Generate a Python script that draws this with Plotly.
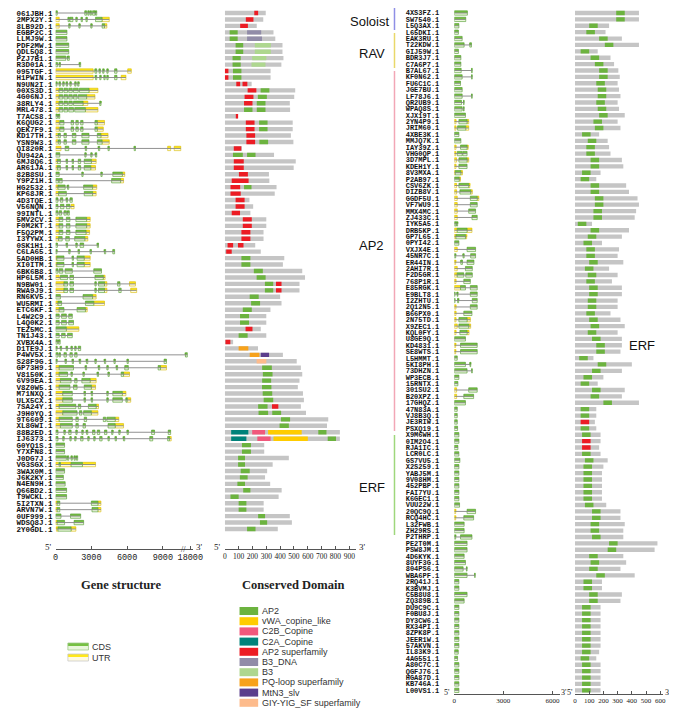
import plotly.graph_objects as go

W, H = 677, 708

# ---------------- data ----------------
left_genes = ["061JBH.1", "2MPX2Y.1", "8LB92D.1", "EGBP2C.1", "LLMJ9W.1", "PDF2MW.1", "QDL5Q8.1", "PZJ7B1.1",
              "R3D01A.1", "095TGF.1", "H1PWIN.1", "N9UN2I.1", "00XS3D.1", "4G06NJ.1", "38RLY4.1", "MRL478.1",
              "T7ACS8.1", "K6QUG2.1", "QEK7F9.1", "KD17TH.1", "YSN9W3.1", "QI820R.1", "UU942A.1", "6MJ8Q6.1",
              "AR61JA.1", "82B8SU.1", "Y9PZ1H.1", "HG2532.1", "KP68JR.1", "4D3TQE.1", "V56NQN.1", "99INTL.1",
              "5MV2CV.1", "F0M2KT.1", "F5Q2PM.1", "I3YYWX.1", "0SK1H1.1", "C6LA65.1", "5AD0HB.1", "XI0ITM.1",
              "6BK6B8.1", "HP6L5M.1", "N9BW01.1", "RWA9J9.1", "RN6KV5.1", "WU5RMI.1", "ETC6KF.1", "L4W2C9.1",
              "L4Q0K2.1", "TEZ5MC.1", "TN1J43.1", "XVBX4A.1", "D1TE9J.1", "P4WV5X.1", "S28F9G.1", "GP73H9.1",
              "V8150K.1", "6V99EA.1", "V8Z0W5.1", "M71NXQ.1", "ULX5CX.1", "7SA24Y.1", "J9H0YQ.1", "9T6609.1",
              "XL8GWI.1", "88B2ED.1", "IJ6373.1", "G0YQ1S.1", "Y7XFN8.1", "J0DG7J.1", "VG3SGX.1", "3WAX0M.1",
              "J6K2KY.1", "N4EN9H.1", "Q66BD2.1", "T9WCKL.1", "5I2TXN.1", "ARVN7W.1", "0UF999.1", "WDSQ8J.1",
              "2Y0GDL.1"]

# gene structure: (kind, start bp, end bp) ; C = CDS, U = UTR
left_struct = [
    [("C", 0, 130), ("C", 2450, 2600), ("C", 2700, 2800), ("C", 2900, 3000), ("C", 3100, 3300), ("C", 3350, 3450)],
    [("U", 0, 300), ("C", 1050, 1150), ("C", 1200, 1450), ("C", 1700, 1800), ("C", 2150, 2250), ("C", 2550, 2650), ("C", 3350, 3900), ("U", 3900, 4500)],
    [("U", 0, 300), ("C", 1100, 1200), ("C", 1950, 2050), ("C", 2950, 3050), ("C", 3900, 4100), ("U", 4100, 4300)],
    [("C", 0, 950)],
    [("C", 0, 950)],
    [("C", 0, 1100)],
    [("C", 0, 1100)],
    [("C", 0, 850), ("C", 1000, 1150)],
    [("C", 0, 150), ("C", 300, 400), ("C", 2000, 2100)],
    [("U", 0, 3150), ("C", 3300, 3450), ("C", 3650, 3750), ("C", 3950, 4050), ("C", 4300, 4400), ("C", 4950, 5150), ("U", 6050, 6350)],
    [("U", 0, 3150), ("C", 3350, 3450), ("C", 3700, 3800), ("C", 4050, 4150), ("C", 4300, 4400), ("C", 4950, 5150), ("U", 5500, 5900)],
    [("C", 0, 100), ("C", 300, 400), ("C", 600, 700), ("C", 900, 1000), ("C", 1200, 1300), ("C", 1600, 1700), ("C", 1850, 1950)],
    [("U", 0, 250), ("C", 300, 600), ("C", 700, 1000), ("C", 1100, 1400), ("C", 1500, 1900), ("C", 2000, 2800), ("U", 2800, 3550)],
    [("U", 0, 250), ("C", 300, 600), ("C", 700, 1000), ("C", 1100, 1400), ("C", 1500, 1800), ("C", 1900, 2600), ("U", 2600, 3300)],
    [("U", 0, 250), ("C", 300, 600), ("C", 700, 1000), ("C", 1100, 1400), ("C", 1500, 2300), ("U", 2300, 2700), ("C", 3700, 3800)],
    [("U", 0, 250), ("C", 300, 600), ("C", 700, 1000), ("C", 1100, 1500), ("C", 1600, 2500), ("U", 2500, 3550)],
    [("C", 0, 150), ("C", 250, 350)],
    [("U", 0, 300), ("C", 350, 700), ("C", 1300, 1500), ("C", 1700, 1900), ("C", 2100, 2300), ("C", 3300, 3500), ("U", 3500, 4100)],
    [("U", 0, 300), ("C", 350, 700), ("C", 1300, 1500), ("C", 1700, 1900), ("C", 2100, 2300), ("C", 3300, 3500), ("U", 3500, 4000)],
    [("U", 0, 200), ("C", 250, 400), ("C", 700, 900), ("C", 1400, 1700), ("C", 2200, 2800), ("C", 3500, 3800), ("U", 3800, 4400)],
    [("U", 0, 200), ("C", 250, 400), ("C", 700, 900), ("C", 1400, 1700), ("C", 2200, 2800), ("C", 3500, 3900), ("U", 3900, 4500)],
    [("U", 0, 450), ("C", 800, 1100), ("C", 2500, 2600), ("C", 3600, 3700), ("C", 4400, 4500), ("C", 6600, 6700), ("U", 9400, 9650), ("U", 9950, 10500)],
    [("C", 0, 350), ("C", 2450, 2550), ("C", 2950, 3050), ("C", 3350, 3450)],
    [("U", 0, 150), ("C", 150, 400), ("C", 900, 1000), ("C", 1400, 1500), ("C", 1900, 2100), ("C", 2400, 3000), ("U", 3000, 3400)],
    [("U", 0, 150), ("C", 150, 400), ("C", 900, 1000), ("C", 1400, 1500), ("C", 1900, 2100), ("C", 2400, 2950), ("U", 2950, 3350)],
    [("C", 0, 300), ("C", 2200, 2300), ("C", 3800, 3900), ("C", 4800, 5600), ("U", 5600, 5800)],
    [("C", 0, 250), ("C", 300, 550), ("C", 4700, 5450), ("U", 5450, 5700)],
    [("U", 0, 200), ("C", 200, 800), ("C", 1000, 1100), ("C", 2350, 3100), ("U", 3100, 3450)],
    [("U", 0, 250), ("C", 250, 900), ("C", 2400, 3100), ("U", 3100, 3400)],
    [("C", 0, 200), ("C", 400, 600), ("C", 900, 1000), ("C", 1200, 1400)],
    [("C", 0, 200), ("C", 400, 700), ("C", 900, 1200), ("U", 1300, 1550)],
    [("C", 0, 200), ("C", 300, 500), ("C", 700, 900), ("C", 1000, 1150)],
    [("U", 0, 300), ("C", 300, 600), ("C", 900, 1200), ("C", 1700, 2600), ("U", 2600, 2900)],
    [("U", 0, 300), ("C", 300, 600), ("C", 900, 1200), ("C", 1700, 2600), ("U", 2600, 2900)],
    [("U", 0, 300), ("C", 300, 600), ("C", 900, 1200), ("C", 1700, 2550), ("U", 2550, 2850)],
    [("U", 0, 250), ("C", 250, 550), ("C", 850, 1150), ("C", 1600, 2450), ("U", 2450, 2700)],
    [("C", 0, 150), ("C", 900, 1000), ("C", 1700, 1800), ("C", 2050, 2350), ("C", 3500, 3600)],
    [("C", 0, 100), ("C", 1100, 1200), ("C", 1900, 2000), ("C", 2900, 3000), ("C", 4100, 4200), ("C", 4800, 4950)],
    [("U", 0, 100), ("C", 100, 700), ("C", 1400, 1500), ("C", 1800, 2400), ("U", 2400, 2900)],
    [("U", 0, 100), ("C", 100, 700), ("C", 1400, 1500), ("C", 1800, 2400), ("U", 2400, 2900)],
    [("C", 0, 200), ("C", 300, 600), ("C", 800, 1400), ("C", 3200, 3850)],
    [("U", 0, 300), ("C", 400, 1000), ("C", 1200, 1500), ("C", 3300, 4000), ("U", 4000, 4150)],
    [("U", 0, 700), ("C", 700, 1000), ("C", 1200, 1500), ("C", 3300, 3400), ("C", 3600, 4100), ("U", 4100, 4300), ("C", 5200, 5400), ("U", 6200, 6700)],
    [("U", 0, 700), ("C", 700, 1000), ("C", 1200, 1500), ("C", 3300, 3400), ("C", 3600, 4100), ("U", 4100, 4300), ("C", 5300, 5500), ("U", 6300, 6800)],
    [("C", 0, 400), ("C", 2300, 3100), ("U", 3100, 3400)],
    [("U", 0, 200), ("C", 200, 500), ("C", 2500, 3200), ("U", 3200, 4100)],
    [("U", 0, 300), ("C", 300, 700), ("C", 1800, 2500), ("U", 2500, 2650)],
    [("C", 0, 300), ("C", 500, 900), ("C", 1100, 1400)],
    [("C", 0, 300), ("C", 500, 900), ("C", 1100, 1500)],
    [("C", 0, 900), ("U", 900, 1950)],
    [("C", 0, 300), ("C", 500, 800), ("C", 1000, 1400)],
    [("C", 0, 150), ("C", 250, 380)],
    [("C", 0, 100), ("C", 400, 500), ("C", 900, 1000), ("C", 1300, 1400), ("C", 1600, 1700), ("C", 1900, 2100)],
    [("C", 0, 200), ("C", 300, 400), ("C", 700, 900), ("C", 1200, 1400), ("C", 1600, 1800), ("C", 10900, 11050)],
    [("C", 0, 100), ("C", 800, 900), ("C", 1400, 1500), ("C", 2000, 2100), ("C", 2600, 2700), ("C", 3300, 3400), ("C", 4100, 4200), ("C", 4900, 5000), ("C", 6000, 6100), ("C", 9100, 9300)],
    [("U", 0, 300), ("C", 300, 1500), ("C", 2500, 2600), ("C", 3600, 3700), ("C", 4300, 4400), ("C", 5100, 5200), ("C", 5800, 6100), ("C", 8600, 8800), ("U", 8800, 9300)],
    [("U", 0, 300), ("C", 300, 1000), ("C", 1300, 1400), ("C", 2300, 2400), ("C", 3500, 3600), ("C", 4400, 4500), ("C", 5500, 5700), ("U", 5700, 6200)],
    [("U", 0, 400), ("C", 400, 1300), ("C", 1600, 1800), ("C", 2200, 2900), ("U", 2900, 3400)],
    [("U", 0, 300), ("C", 300, 1200), ("C", 1500, 1800), ("C", 2400, 3000), ("U", 3000, 3350)],
    [("U", 0, 600), ("C", 600, 1400), ("C", 2400, 2500), ("C", 3000, 3100), ("C", 4300, 4400), ("C", 4800, 5600), ("U", 5600, 5900)],
    [("U", 0, 600), ("C", 600, 1400), ("C", 2400, 2500), ("C", 3000, 3100), ("C", 4300, 4400), ("C", 4800, 5600), ("C", 5900, 6000), ("U", 6000, 6300)],
    [("U", 0, 300), ("C", 300, 1700), ("C", 1900, 2100), ("C", 2750, 3400), ("U", 3400, 3600)],
    [("U", 0, 600), ("C", 600, 1800), ("C", 2000, 2200), ("C", 2350, 3000), ("U", 3000, 3550)],
    [("U", 0, 300), ("C", 300, 1400), ("C", 1700, 1900), ("C", 2400, 2600), ("C", 4000, 4200), ("C", 4300, 5000), ("U", 5000, 5300)],
    [("U", 0, 400), ("C", 400, 1400), ("C", 1700, 1900), ("C", 2300, 2500), ("C", 4400, 5000), ("U", 5000, 5700)],
    [("C", 0, 200), ("C", 700, 800), ("C", 1100, 1300), ("C", 1700, 1800), ("C", 2200, 2300), ("C", 2600, 2700), ("C", 3100, 3300), ("C", 3500, 3700), ("C", 4100, 4300), ("C", 4700, 4800), ("C", 5300, 5400), ("C", 6000, 6100), ("C", 8050, 8300), ("C", 9450, 9650)],
    [("C", 0, 200), ("C", 600, 700), ("C", 1200, 1300), ("C", 1600, 1700), ("C", 2100, 2300), ("C", 2700, 2800), ("C", 3200, 3300), ("C", 3700, 3900), ("C", 4400, 4500), ("C", 5000, 5100), ("C", 5700, 5800), ("C", 7900, 8150), ("C", 9400, 9550), ("U", 9550, 9700)],
    [("C", 0, 750)],
    [("C", 0, 750)],
    [("C", 0, 900), ("C", 1000, 1100), ("C", 1300, 1400), ("C", 1550, 1650), ("C", 1750, 1850)],
    [("U", 0, 300), ("C", 300, 400), ("U", 400, 1300), ("C", 1300, 2250), ("U", 2250, 3350)],
    [("C", 0, 750)],
    [("C", 0, 650)],
    [("C", 0, 800)],
    [("C", 0, 920)],
    [("C", 0, 920)],
    [("U", 0, 130), ("C", 130, 350), ("C", 3000, 3550), ("U", 3550, 3800)],
    [("U", 0, 130), ("C", 130, 350), ("C", 3050, 3550), ("U", 3550, 3800)],
    [("C", 0, 450), ("C", 1250, 2100)],
    [("U", 0, 130), ("C", 130, 750), ("C", 1550, 2350)],
    [("U", 60, 200), ("C", 200, 1300), ("U", 1300, 1700)],
]

# protein length (aa) and conserved domains (type, start, end)
left_len = [296, 278, 231, 352, 365, 417, 417, 424, 409, 331, 331, 194, 509, 502, 470, 472, 96, 491, 491, 478,
            496, 124, 356, 513, 498, 319, 322, 374, 361, 178, 205, 185, 300, 300, 280, 280, 220, 260, 430, 420,
            560, 580, 540, 540, 400, 410, 330, 300, 300, 260, 300, 60, 240, 420, 520, 550, 560, 540, 528, 565,
            572, 550, 587, 748, 739, 832, 832, 285, 285, 463, 346, 306, 291, 328, 411, 389, 281, 281, 470, 485,
            383]

left_dom = [
    [("AP2sf", 213, 241)], [("AP2sf", 152, 207)], [("AP2sf", 111, 167)],
    [("AP2", 35, 93), ("B3_DNA", 161, 263)], [("AP2", 35, 93), ("B3_DNA", 161, 269)],
    [("AP2", 78, 133), ("B3", 217, 333)], [("AP2", 78, 133), ("B3", 217, 333)],
    [("AP2", 56, 115), ("B3", 198, 300)], [("AP2", 56, 115), ("B3", 193, 294)],
    [("AP2sf", 0, 26), ("AP2", 59, 120)], [("AP2sf", 0, 26), ("AP2", 59, 120)],
    [("AP2sf", 83, 111), ("AP2sf", 128, 163)],
    [("AP2sf", 165, 228), ("AP2", 259, 322)], [("AP2sf", 143, 207), ("AP2", 239, 304)],
    [("AP2sf", 139, 200), ("AP2", 231, 294)], [("AP2", 139, 200), ("AP2", 231, 294)],
    [("AP2sf", 83, 96)],
    [("AP2sf", 152, 215), ("AP2", 248, 309)], [("AP2sf", 152, 215), ("AP2", 248, 309)],
    [("AP2sf", 156, 219)], [("AP2sf", 156, 219), ("AP2", 250, 313)],
    [("AP2sf", 65, 119)], [("AP2", 59, 130), ("AP2", 161, 222)],
    [("AP2sf", 65, 137)], [("AP2sf", 65, 137)], [("AP2sf", 102, 167)], [("AP2sf", 50, 172)],
    [("AP2sf", 41, 111), ("AP2", 139, 193)], [("AP2sf", 41, 115)], [("AP2sf", 78, 143)],
    [("AP2sf", 78, 143)], [("AP2sf", 50, 110)],
    [("AP2sf", 130, 195)], [("AP2sf", 130, 195)], [("AP2sf", 120, 185)], [("AP2sf", 120, 185)],
    [("AP2sf", 20, 60), ("AP2sf", 95, 135)], [("AP2sf", 10, 50)],
    [("AP2", 120, 185)], [("AP2", 120, 185)], [("AP2", 210, 275)], [("AP2", 230, 295)],
    [("AP2", 290, 350), ("AP2sf", 370, 410)], [("AP2", 290, 350), ("AP2sf", 370, 410)],
    [("AP2", 180, 245)], [("AP2", 190, 255)], [("AP2", 130, 195)], [("AP2", 110, 175)],
    [("AP2", 110, 175)], [("AP2sf", 150, 200)], [("AP2", 100, 165)], [("AP2sf", 5, 40)],
    [("PQ", 100, 170)], [("PQ", 180, 250), ("MtN3", 260, 320)], [("GIY", 230, 300)],
    [("AP2", 270, 340)], [("AP2", 275, 345)], [("AP2", 270, 335)],
    [("AP2", 269, 337)], [("AP2", 274, 343)], [("AP2", 281, 350)],
    [("AP2", 241, 309), ("AP2sf", 341, 387)], [("AP2", 244, 313), ("AP2", 343, 407)],
    [("AP2", 406, 472)], [("AP2", 396, 463)],
    [("C2A", 46, 170), ("C2B", 198, 291), ("vWA", 313, 556), ("AP2", 676, 735)],
    [("C2A", 46, 156), ("C2B", 235, 331), ("vWA", 352, 600), ("AP2", 744, 804)],
    [("AP2", 124, 189)], [("AP2", 124, 189)], [("AP2", 96, 146)], [("AP2", 96, 146)],
    [("AP2", 115, 180)], [("AP2", 109, 165)], [("AP2", 91, 146)], [("AP2", 133, 185)],
    [("AP2", 41, 100)], [("AP2", 100, 156)], [("AP2", 100, 156)], [("AP2", 241, 291)],
    [("AP2", 254, 306)], [("AP2", 161, 222)],
]

right_genes = ["4XS3FZ.1", "SW7540.1", "L5Q3AX.1", "L65DKI.1", "EAK3RU.1", "T22KDW.1", "GIJ59W.1", "BDR3J7.1",
               "C7A6P7.1", "B7AL67.1", "KF0N62.1", "FU6C1C.1", "JGE7BU.1", "LF78J6.1", "QR2UB9.1", "WPAQ8S.1",
               "XJX19T.1", "2YN4P9.1", "JRIM60.1", "4XBE3K.1", "MMJQ7K.1", "IAY39Z.1", "VHG0QP.1", "3D7MPL.1",
               "KDEH1Y.1", "8V3MXA.1", "P2AB97.1", "CSV6ZK.1", "DIZB8V.1", "GGDF5U.1", "VF7WU9.1", "MMX4MC.1",
               "ZJ433C.1", "IYK5A5.1", "DRB5KP.1", "GP7L65.1", "0PYI42.1", "VXJX4E.1", "45NR7C.1", "ER44IN.1",
               "2AHI7R.1", "F2D5GR.1", "768P1R.1", "E85RGK.1", "E9BLT8.1", "I2ZHTU.1", "2Q12N5.1", "B66PX0.1",
               "2N75TD.1", "X9ZEC1.1", "KQL0FY.1", "U8GE9Q.1", "KD4831.1", "SE8WTS.1", "L5HMMT.1", "5KI8PH.1",
               "73DHZN.1", "WP3ECB.1", "15RNTX.1", "301SU2.1", "B20XPZ.1", "17GHQZ.1", "47N83A.1", "VJ8B3Q.1",
               "JE3RIW.1", "PSXQ19.1", "X9M6WH.1", "0IM2O4.1", "RJA1IC.1", "LCR0LC.1", "GS7VU5.1", "X2S259.1",
               "YABJ5M.1", "9V08HM.1", "452PBP.1", "FAI7YU.1", "K6GEC1.1", "VUU22W.1", "20QC9Q.1", "RCQ4HC.1",
               "L32FWB.1", "ZH29RS.1", "P2THRP.1", "PE2T0M.1", "PSW8JM.1", "4D6KYK.1", "8UYF3G.1", "804PS6.1",
               "WBA6PF.1", "2RQ41J.1", "K3BVMJ.1", "C5B8U8.1", "ZQ389B.1", "DU9C9C.1", "F0BU8J.1", "DY3CW6.1",
               "RX34PI.1", "8ZPK8P.1", "JEER1W.1", "57AKVN.1", "IL83K9.1", "4AG551.1", "A80C7C.1", "QGFJ76.1",
               "HGA87D.1", "KB746A.1", "L00VS1.1"]

right_struct = [
    [("C", 0, 800)], [("C", 0, 700)], [("C", 0, 280)], [("C", 0, 250)], [("C", 0, 480)],
    [("C", 0, 600), ("C", 950, 1050)], [("C", 0, 250)], [("C", 0, 400)], [("C", 0, 400)],
    [("C", 0, 420), ("C", 1050, 1100)], [("C", 0, 480), ("C", 1050, 1100)], [("C", 0, 380)], [("C", 0, 480)],
    [("C", 0, 480), ("C", 1050, 1100)], [("C", 0, 440), ("C", 560, 600)], [("C", 0, 480), ("C", 560, 600)],
    [("C", 0, 680)], [("U", 0, 100), ("C", 280, 780), ("U", 780, 880)], [("U", 0, 100), ("C", 200, 700), ("U", 700, 880)],
    [("C", 0, 280)], [("C", 0, 400)], [("U", 0, 100), ("C", 380, 780), ("U", 780, 850)],
    [("U", 0, 80), ("C", 180, 480), ("C", 520, 780)], [("U", 0, 140), ("C", 280, 780), ("U", 780, 880)],
    [("U", 0, 100), ("C", 280, 780)], [("U", 0, 60), ("C", 60, 400), ("U", 400, 500)], [("C", 0, 300), ("U", 300, 380)],
    [("U", 0, 140), ("C", 280, 880), ("U", 880, 950)], [("U", 0, 140), ("C", 340, 1000), ("U", 1000, 1100)],
    [("U", 0, 180), ("C", 980, 1400), ("U", 1400, 1500)], [("U", 0, 180), ("C", 980, 1400)],
    [("U", 0, 180), ("C", 880, 1300)], [("U", 0, 180), ("C", 1080, 1400)], [("C", 0, 100), ("C", 130, 200)],
    [("U", 0, 180), ("C", 180, 780), ("U", 780, 1080)], [("U", 0, 100), ("C", 100, 680), ("U", 680, 750)],
    [("C", 0, 280)], [("U", 0, 180), ("C", 780, 1300)], [("C", 0, 80), ("C", 540, 600), ("C", 1000, 1300)],
    [("U", 0, 80), ("C", 400, 500), ("C", 780, 1200)], [("U", 0, 180), ("C", 680, 1100)],
    [("U", 0, 180), ("C", 180, 580), ("C", 700, 1100)], [("U", 0, 100), ("C", 580, 980)],
    [("U", 0, 380), ("C", 380, 680), ("C", 980, 1400)], [("C", 0, 40), ("C", 180, 220), ("C", 980, 1400)],
    [("C", 0, 40), ("C", 200, 260), ("C", 1100, 1400)], [("U", 0, 100), ("C", 980, 1400)],
    [("U", 0, 100), ("C", 580, 1080)], [("U", 0, 100), ("C", 280, 780), ("U", 780, 980)],
    [("U", 0, 180), ("C", 280, 880), ("U", 880, 1000)], [("U", 0, 100), ("C", 340, 780), ("U", 780, 900)],
    [("C", 0, 680)], [("U", 0, 80), ("C", 380, 1400)], [("U", 0, 80), ("C", 380, 1400)], [("C", 0, 180)],
    [("C", 0, 680), ("C", 960, 1000)], [("C", 0, 780), ("C", 1060, 1100)], [("C", 0, 280)], [("C", 0, 220)],
    [("U", 0, 140), ("C", 880, 1400)], [("U", 0, 140), ("C", 580, 1180)], [("C", 0, 680)],
    [("C", 0, 180)], [("C", 0, 180)], [("C", 0, 180)], [("C", 0, 200)], [("C", 0, 280)], [("C", 0, 280)],
    [("C", 0, 220)], [("C", 0, 280)], [("C", 0, 340)], [("C", 0, 280)], [("C", 0, 280)], [("C", 0, 280)],
    [("C", 0, 280)], [("C", 0, 280)], [("C", 0, 280)], [("C", 0, 320)], [("U", 0, 80), ("C", 780, 1300)],
    [("U", 0, 80), ("C", 580, 1180)], [("C", 0, 600)], [("C", 0, 600)], [("C", 0, 80), ("C", 380, 1080)],
    [("C", 0, 780)], [("C", 0, 780)], [("C", 0, 600)], [("C", 0, 680)], [("C", 0, 540), ("C", 740, 780)],
    [("C", 0, 780), ("C", 1240, 1280)], [("C", 0, 280)], [("C", 0, 280)], [("C", 0, 780)], [("C", 0, 600)],
    [("C", 0, 280)], [("C", 0, 280)], [("C", 0, 280)], [("C", 0, 280)], [("C", 0, 280)], [("C", 0, 280)],
    [("C", 0, 280)], [("C", 0, 240)], [("C", 0, 200)], [("C", 0, 280)], [("C", 0, 280)], [("C", 0, 280)],
    [("C", 0, 280)], [("C", 0, 280)],
]

right_len = [450, 450, 240, 215, 330, 450, 160, 250, 275, 305, 315, 300, 310, 320, 300, 310, 350, 300, 320, 170,
             230, 240, 250, 330, 340, 180, 150, 360, 380, 440, 450, 430, 420, 120, 380, 330, 190, 310, 300, 340,
             240, 300, 260, 330, 330, 300, 300, 250, 320, 350, 300, 330, 330, 320, 130, 400, 330, 200, 160, 350,
             330, 450, 150, 150, 140, 150, 180, 180, 170, 180, 230, 200, 190, 190, 190, 190, 190, 220, 320, 320,
             350, 340, 340, 580, 560, 340, 360, 320, 420, 190, 190, 330, 320, 180, 180, 180, 180, 180, 180, 180,
             170, 150, 180, 180, 180, 180, 180]

right_dom = [
    [("AP2", 290, 350)], [("AP2", 290, 350)], [("AP2", 100, 160)], [("AP2", 80, 140)], [("AP2", 170, 230)],
    [("AP2", 210, 270)], [("AP2", 40, 100)], [("AP2", 110, 170)], [("AP2", 140, 200)], [("AP2", 170, 230)],
    [("AP2", 170, 230)], [("AP2", 150, 210)], [("AP2", 160, 220)], [("AP2", 160, 220)], [("AP2", 150, 210)],
    [("AP2", 160, 220)], [("AP2", 170, 230)], [("AP2", 130, 190)], [("AP2", 140, 200)], [("AP2", 50, 110)],
    [("AP2", 90, 150)], [("AP2", 80, 140)], [("AP2", 80, 140)], [("AP2", 110, 170)], [("AP2", 110, 170)],
    [("AP2", 50, 110)], [("AP2", 40, 100)], [("AP2", 110, 170)], [("AP2", 110, 170)], [("AP2", 140, 200)],
    [("AP2", 140, 200)], [("AP2", 130, 190)], [("AP2", 130, 190)], [("AP2", 20, 80)], [("AP2", 110, 170)],
    [("AP2", 90, 150)], [("AP2", 60, 120)], [("AP2", 80, 140)], [("AP2", 80, 140)], [("AP2", 100, 160)],
    [("AP2", 70, 130)], [("AP2", 90, 150)], [("AP2", 80, 140)], [("AP2", 100, 160)], [("AP2", 100, 160)],
    [("AP2", 90, 150)], [("AP2", 90, 150)], [("AP2", 80, 140)], [("AP2", 100, 160)], [("AP2", 110, 170)],
    [("AP2", 90, 150)], [("AP2", 120, 180)], [("AP2", 150, 210)], [("AP2", 150, 210)], [("AP2", 30, 90)],
    [("AP2", 160, 220)], [("AP2", 120, 180)], [("AP2", 60, 120)], [("AP2", 40, 100)], [("AP2", 120, 180)],
    [("AP2", 110, 170)], [("AP2", 200, 260)], [("AP2", 40, 100)], [("AP2", 40, 100)], [("AP2sf", 40, 100)],
    [("AP2", 40, 100)], [("AP2", 50, 110)], [("AP2sf", 50, 110)], [("AP2sf", 50, 110)], [("AP2", 50, 110)],
    [("AP2", 70, 130)], [("AP2", 60, 120)], [("AP2", 60, 120)], [("AP2", 60, 120)], [("AP2", 60, 120)],
    [("AP2", 60, 120)], [("AP2", 60, 120)], [("AP2", 70, 130)], [("AP2", 120, 180)], [("AP2", 120, 180)],
    [("AP2", 110, 170)], [("AP2", 110, 170)], [("AP2", 120, 180)], [("AP2", 240, 300)], [("AP2", 230, 290)],
    [("AP2", 100, 160)], [("AP2", 110, 170)], [("AP2", 100, 160)], [("AP2", 150, 210)], [("AP2", 60, 120)],
    [("AP2", 60, 120)], [("AP2", 100, 160)], [("AP2", 100, 160)], [("AP2", 50, 110)], [("AP2", 50, 110)],
    [("AP2", 50, 110)], [("AP2", 50, 110)], [("AP2", 50, 110)], [("AP2", 50, 110)], [("AP2", 50, 110)],
    [("AP2", 50, 110)], [("AP2", 40, 100)], [("AP2", 50, 110)], [("AP2", 50, 110)], [("AP2", 50, 110)],
    [("AP2", 50, 110)], [("AP2", 50, 110)],
]

dom_keys = ["AP2", "vWA", "C2B", "C2A", "AP2sf", "B3_DNA", "B3", "PQ", "MtN3", "GIY"]
dom_labels = ["AP2", "vWA_copine_like", "C2B_Copine", "C2A_Copine", "AP2 superfamily", "B3_DNA", "B3",
              "PQ-loop superfamily", "MtN3_slv", "GIY-YIG_SF superfamily"]
dom_colors = ["#6cb33f", "#ffcc00", "#f1587c", "#00827a", "#ec1c24", "#918ca8", "#aed78f", "#f7a21b",
              "#5b3e8c", "#fdbb8c"]

families = ["Soloist", "RAV", "AP2", "ERF"]
family_colors = ["#8f8fe6", "#e9d86a", "#f2a7b6", "#9fd77c"]

# ---------------- helpers ----------------
def px(x):
    return x / W


def py(y):
    return 1 - y / H


fig = go.Figure()
BW = 0.68


def add_structure(struct, xa, ya):
    lx, ly = [], []
    seg = {"C": ([], [], []), "U": ([], [], [])}
    for i, gene in enumerate(struct):
        lo = min(s for _, s, _ in gene)
        hi = max(e for _, _, e in gene)
        lx += [lo, hi, None]
        ly += [i, i, None]
        for kind, s, e in gene:
            seg[kind][0].append(i)
            seg[kind][1].append(s)
            seg[kind][2].append(e - s)
    fig.add_trace(go.Scatter(x=lx, y=ly, mode="lines", line=dict(color="#858585", width=0.9),
                             xaxis=xa, yaxis=ya, hoverinfo="skip"))
    styles = {"U": ("#fffbe0", "#ffe81a", "#d8bb00"), "C": ("#e9f6dc", "#76c043", "#4f9a2a")}
    for kind in ["U", "C"]:
        ys, bs, ls = seg[kind]
        light, dark, edge = styles[kind]
        fig.add_trace(go.Bar(y=ys, base=bs, x=ls, orientation="h", width=BW,
                             marker=dict(color=light, line=dict(width=0)), xaxis=xa, yaxis=ya, hoverinfo="skip"))
        fig.add_trace(go.Bar(y=ys, base=bs, x=ls, orientation="h", width=BW * 0.5, offset=-BW / 2,
                             marker=dict(color=dark, line=dict(width=0)), xaxis=xa, yaxis=ya, hoverinfo="skip"))
        fig.add_trace(go.Bar(y=ys, base=bs, x=ls, orientation="h", width=BW,
                             marker=dict(color="rgba(0,0,0,0)", line=dict(color=edge, width=0.6)),
                             xaxis=xa, yaxis=ya, hoverinfo="skip"))


def add_domains(lens, doms, xa, ya):
    fig.add_trace(go.Bar(y=list(range(len(lens))), base=[0] * len(lens), x=lens, orientation="h", width=BW,
                         marker=dict(color="#c5c5c5", line=dict(width=0)), xaxis=xa, yaxis=ya, hoverinfo="skip"))
    for key, col in zip(dom_keys, dom_colors):
        ys, bs, ls = [], [], []
        for i, dl in enumerate(doms):
            for k, s, e in dl:
                if k == key:
                    ys.append(i)
                    bs.append(s)
                    ls.append(e - s)
        if ys:
            fig.add_trace(go.Bar(y=ys, base=bs, x=ls, orientation="h", width=BW,
                                 marker=dict(color=col, line=dict(width=0)), xaxis=xa, yaxis=ya, hoverinfo="skip"))


add_structure(left_struct, "x", "y")
add_domains(left_len, left_dom, "x2", "y")
add_structure(right_struct, "x3", "y2")
add_domains(right_len, right_dom, "x4", "y2")

# ---------------- axes ----------------
axis_common = dict(showline=True, linecolor="#555", linewidth=1, ticks="inside", ticklen=3, tickcolor="#555",
                   showgrid=False, zeroline=False, fixedrange=True, tickangle=0)
left_tick = dict(family="Liberation Mono", size=8.5, color="#222")
dom_tick = dict(family="Liberation Serif", size=7.5, color="#222")
right_tick = dict(family="Liberation Serif", size=7, color="#222")

L_TOP, L_ROW, L_AX = 5, 6.45, 541
R_TOP, R_ROW, R_AX = 5, 6.39, 686
D0, DSC = 218, 0.141          # left domain axis origin (px) and px per aa

fig.update_layout(
    width=W, height=H, margin=dict(l=0, r=0, t=0, b=0), paper_bgcolor="white", plot_bgcolor="white",
    barmode="overlay", showlegend=False,
    xaxis=dict(domain=[px(45.5), px(186)], range=[0, (186 - 45.5) / 0.01215], anchor="y", tickfont=left_tick,
               tickvals=[0, 3000, 6000, 9000, 11300], ticktext=["0", "3000", "6000", "9000", "18000"], **axis_common),
    xaxis2=dict(domain=[px(D0), px(352)], range=[0, (352 - D0) / DSC], anchor="y", tickfont=dom_tick,
                tickvals=list(range(0, 901, 100)), **axis_common),
    xaxis3=dict(domain=[px(452), px(560)], range=[0, 108 * 60], anchor="y2", tickfont=right_tick,
                tickvals=[0, 3000, 6000], **axis_common),
    xaxis4=dict(domain=[px(575), px(665)], range=[0, 90 / 0.145], anchor="y2", tickfont=right_tick,
                tickvals=list(range(0, 601, 100)), **axis_common),
    yaxis=dict(domain=[py(L_AX), 1], range=[(L_AX - L_TOP) / L_ROW, -L_TOP / L_ROW], anchor="x",
               tickvals=list(range(len(left_genes))), ticktext=["<b>%s</b>" % g for g in left_genes],
               tickfont=dict(family="Liberation Mono", size=7.5, color="#111"), ticks="", showline=False,
               showgrid=False, zeroline=False, automargin=False, ticklabelstandoff=2, fixedrange=True),
    yaxis2=dict(domain=[py(R_AX), 1], range=[(R_AX - R_TOP) / R_ROW, -R_TOP / R_ROW], anchor="x3",
                tickvals=list(range(len(right_genes))), ticktext=["<b>%s</b>" % g for g in right_genes],
                tickfont=dict(family="Liberation Mono", size=7, color="#111"), ticks="", showline=False,
                showgrid=False, zeroline=False, automargin=False, ticklabelstandoff=14, fixedrange=True),
)

# ---------------- annotations & decorations ----------------
ann = []
shapes = []


def text(x, y, t, size=9, family="Liberation Serif", color="#222", xanchor="center", bold=False):
    ann.append(dict(x=px(x), y=py(y), xref="paper", yref="paper", text=("<b>%s</b>" % t) if bold else t,
                    showarrow=False, xanchor=xanchor, yanchor="middle",
                    font=dict(size=size, family=family, color=color)))


# 5' / 3' ends of axes
for x5, x3, yy, sz in [(38, 192, L_AX, 9), (D0 - 7, 358, L_AX, 9), (445, 564, R_AX, 8), (570, 670, R_AX, 8)]:
    text(x5, yy - 2, "5'", size=sz)
    text(x3, yy - 2, "3'", size=sz)
text(176, L_AX, "//", size=8)

text(112, 577, "Gene structure", size=12.5, bold=True)
text(288, 577, "Conserved Domain", size=12.5, bold=True)

# family labels and brackets
fam_spans = [(0, 22), (25, 60), (63, 423), (427, 527)]
fam_text_y = [13, 45, 237, 479]
for k, (name, col, (y0, y1), ty) in enumerate(zip(families, family_colors, fam_spans, fam_text_y)):
    shapes.append(dict(type="line", xref="paper", yref="paper", x0=px(391), x1=px(391), y0=py(y0), y1=py(y1),
                       line=dict(color=col, width=1.5)))
    if k == 0:
        text(387, ty, name, size=13, family="Liberation Sans", color="#111", xanchor="right")
    else:
        text(368, ty, name, size=13, family="Liberation Sans", color="#111")
shapes.append(dict(type="line", xref="paper", yref="paper", x0=px(672), x1=px(672), y0=py(3), y1=py(684),
                   line=dict(color=family_colors[3], width=1.5)))
text(643, 337, "ERF", size=13, family="Liberation Sans", color="#111")

# gene structure legend
for (label, light, dark, edge), yy in zip([("CDS", "#e9f6dc", "#76c043", "#9fc98a"),
                                           ("UTR", "#fffbe0", "#ffe81a", "#c9c9c9")], [635, 646]):
    shapes.append(dict(type="rect", xref="paper", yref="paper", x0=px(58), x1=px(79), y0=py(yy + 7), y1=py(yy),
                       fillcolor=light, line=dict(width=0)))
    shapes.append(dict(type="rect", xref="paper", yref="paper", x0=px(58), x1=px(79), y0=py(yy + 3), y1=py(yy),
                       fillcolor=dark, line=dict(width=0)))
    shapes.append(dict(type="rect", xref="paper", yref="paper", x0=px(58), x1=px(79), y0=py(yy + 7), y1=py(yy),
                       fillcolor="rgba(0,0,0,0)", line=dict(color=edge, width=0.8)))
    text(81, yy + 3.5, label, size=9, family="Liberation Sans", color="#333", xanchor="left")

# domain legend
for k, (lab, col) in enumerate(zip(dom_labels, dom_colors)):
    yy = 603 + k * 10.2
    shapes.append(dict(type="rect", xref="paper", yref="paper", x0=px(233), x1=px(252), y0=py(yy + 4),
                       y1=py(yy - 4), fillcolor=col, line=dict(width=0)))
    text(254, yy, lab, size=9, family="Liberation Sans", color="#333", xanchor="left")

fig.update_layout(annotations=ann, shapes=shapes)
fig.write_html("out.html")
